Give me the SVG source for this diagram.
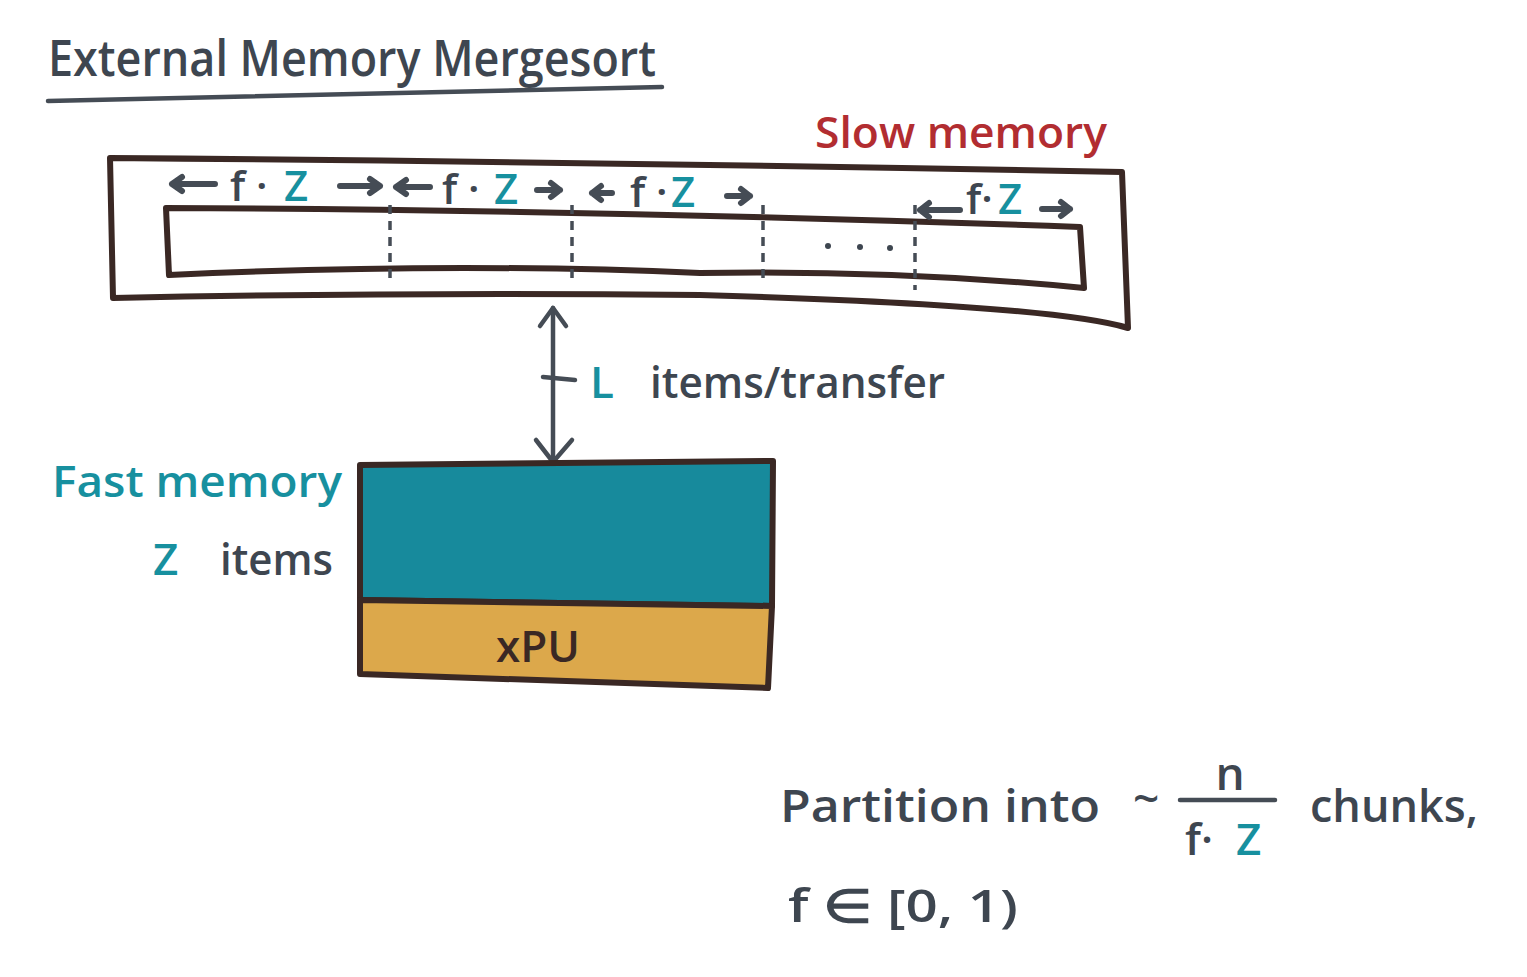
<svg xmlns="http://www.w3.org/2000/svg" width="1527" height="977" viewBox="0 0 1527 977">
<defs>
<style>
.hand{font-family:"Open Sans","Liberation Sans",sans-serif;font-weight:600;}
.dk{fill:#3e4650;}
.tl{fill:#17909f;}
.rd{fill:#b22d31;}
.ln{fill:none;stroke:#3a2824;stroke-width:6;stroke-linecap:round;stroke-linejoin:round;}
.gl{fill:none;stroke:#454c55;stroke-width:4.5;stroke-linecap:round;stroke-linejoin:round;}
.ar{fill:none;stroke:#454c55;stroke-width:6;stroke-linecap:round;stroke-linejoin:round;}
.dash{fill:none;stroke:#454c55;stroke-width:3.5;stroke-dasharray:9 7;}
</style>
</defs>
<rect width="1527" height="977" fill="#ffffff"/>

<g id="title">
<text class="hand dk" x="48" y="76" font-size="50" textLength="608" lengthAdjust="spacingAndGlyphs">External Memory Mergesort</text>
<path class="gl" d="M48,101 Q300,96 662,87"/>
</g>

<g id="slow-memory">
<text class="hand rd" x="815" y="148" font-size="44" textLength="292" lengthAdjust="spacingAndGlyphs">Slow memory</text>
<path class="ln" d="M110,158 Q600,162 1122,172 L1128,328 Q1050,305 700,295 Q400,292 113,298 Z"/>
<path class="ln" d="M166,208 Q600,210 1080,227 L1084,288 Q900,270 700,273 Q450,262 169,275 Z"/>
<path class="dash" d="M390,205 V278 M572,205 V278 M763,205 V283 M915,205 V290"/>
<g class="dk">
<circle cx="828" cy="246" r="3"/><circle cx="860" cy="247" r="3"/><circle cx="890" cy="248" r="3"/>
</g>
</g>

<g id="chunk-labels">
<path class="ar" d="M215,184 H172 M182,177 L172,184 L182,191"/>
<path class="ar" d="M340,186 H380 M370,179 L380,186 L370,193"/>
<path class="ar" d="M430,187 H396 M406,180 L396,187 L406,194"/>
<path class="ar" d="M537,190 H560 M551,183 L560,190 L551,197"/>
<path class="ar" d="M612,193 H592 M601,186 L592,193 L601,200"/>
<path class="ar" d="M727,196 H750 M741,189 L750,196 L741,203"/>
<path class="ar" d="M960,210 H920 M929,203 L920,210 L929,217"/>
<path class="ar" d="M1042,209 H1070 M1061,202 L1070,209 L1061,216"/>
<g class="hand" font-size="42">
<text class="dk" x="230" y="201">f ·</text><text class="tl" x="284" y="201">Z</text>
<text class="dk" x="442" y="204">f ·</text><text class="tl" x="494" y="204">Z</text>
<text class="dk" x="630" y="207">f ·</text><text class="tl" x="671" y="207">Z</text>
<text class="dk" x="966" y="214">f·</text><text class="tl" x="998" y="214">Z</text>
</g>
</g>

<g id="connectors">
<path class="gl" d="M553,308 V462"/>
<path class="gl" d="M540,326 L553,308 L566,326"/>
<path class="gl" d="M536,440 L553,462 L572,440"/>
<path class="gl" d="M543,377 L575,380"/>
</g>

<g id="transfer-label">
<text class="hand tl" x="590" y="398" font-size="44">L</text>
<text class="hand dk" x="650" y="398" font-size="44" textLength="295" lengthAdjust="spacingAndGlyphs">items/transfer</text>
</g>

<g id="fast-memory-label">
<text class="hand tl" x="52" y="497" font-size="44" textLength="290" lengthAdjust="spacingAndGlyphs">Fast memory</text>
<text class="hand tl" x="153" y="575" font-size="44">Z</text>
<text class="hand dk" x="220" y="575" font-size="44" textLength="113" lengthAdjust="spacingAndGlyphs">items</text>
</g>

<g id="fast-memory">
<path d="M360,465 L773,461 L772,606 L360,600 Z" fill="#178a9c" stroke="#3a2824" stroke-width="6" stroke-linejoin="round"/>
</g>
<g id="xpu">
<path d="M360,600 L772,606 L768,688 L360,674 Z" fill="#dca84b" stroke="#3a2824" stroke-width="6" stroke-linejoin="round"/>
<text class="hand" x="538" y="662" font-size="44" fill="#3a2824" text-anchor="middle">xPU</text>
</g>

<g id="partition-text">
<text class="hand dk" x="780" y="822" font-size="46" textLength="320" lengthAdjust="spacingAndGlyphs">Partition into</text>
<text class="hand dk" x="1133" y="815" font-size="46">~</text>
<text class="hand dk" x="1230" y="790" font-size="46" text-anchor="middle">n</text>
<path class="gl" d="M1180,800 H1275"/>
<text class="hand dk" x="1185" y="855" font-size="44">f·</text>
<text class="hand tl" x="1236" y="855" font-size="44">Z</text>
<text class="hand dk" x="1310" y="822" font-size="46" textLength="168" lengthAdjust="spacingAndGlyphs">chunks,</text>
<text class="hand dk" x="788" y="922" font-size="46" textLength="230" lengthAdjust="spacingAndGlyphs">f ∈ [0, 1)</text>
</g>
</svg>
